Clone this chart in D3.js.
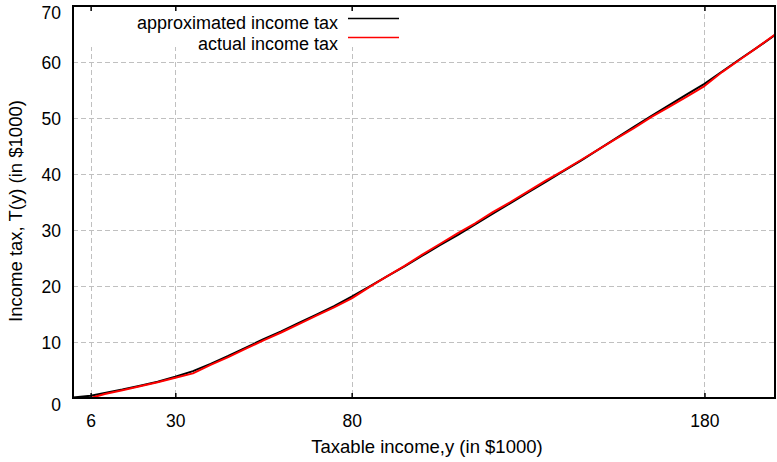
<!DOCTYPE html>
<html>
<head>
<meta charset="utf-8">
<script src="https://cdn.jsdelivr.net/npm/d3@7"></script>
<style>
  html, body { margin: 0; padding: 0; background: #fff; }
  svg { display: block; font-family: "Liberation Sans", Arial, sans-serif; }
</style>
</head>
<body>
<svg id="chart" width="777" height="462"></svg>
<script>
// Taxable income (in $1000)
const incomes = [1, 6, 10, 15, 20, 25, 30, 35, 40, 45, 50, 55, 60, 65, 70, 75, 80, 85, 90, 95,
  100, 105, 110, 115, 120, 125, 130, 135, 140, 145, 150, 155, 160, 165, 170, 175, 180, 185, 190, 195, 200];
// Approximated income tax T(y) (in $1000)
const approxTax = [0.1, 0.4, 0.9, 1.5, 2.2, 2.9, 3.8, 4.8, 6.1, 7.5, 9.0, 10.5, 11.9, 13.4, 14.9, 16.4,
  18.1, 19.9, 21.7, 23.5, 25.4, 27.3, 29.1, 31.0, 32.9, 34.8, 36.7, 38.6, 40.5, 42.4, 44.4, 46.4,
  48.4, 50.4, 52.3, 54.2, 56.1, 58.3, 60.5, 62.6, 64.8];
// Actual income tax T(y) (in $1000)
const actualTax = [0.0, 0.0, 0.7, 1.4, 2.1, 2.8, 3.6, 4.4, 5.9, 7.3, 8.8, 10.3, 11.7, 13.2, 14.7, 16.2,
  17.8, 19.8, 21.7, 23.6, 25.6, 27.5, 29.4, 31.2, 33.2, 35.0, 36.9, 38.8, 40.6, 42.5, 44.4, 46.3,
  48.2, 50.2, 52.0, 53.8, 55.7, 58.2, 60.4, 62.6, 64.9];

const xTicks = [6, 30, 80, 180];
const yTicks = [0, 10, 20, 30, 40, 50, 60, 70];
const seriesNames = ["approximated income tax", "actual income tax"];
const seriesColors = ["#000000", "#ff0000"];
const xTitle = "Taxable income,y (in $1000)";
const yTitle = "Income tax, T(y) (in $1000)";

const svg = d3.select("#chart");
const plotL = 73, plotR = 775, plotT = 6, plotB = 398;

const x = d3.scaleLinear().domain([1, 200]).range([plotL, plotR]);
const y = d3.scaleLinear().domain([0, 70]).range([plotB, plotT]);

svg.append("rect").attr("width", 777).attr("height", 462).attr("fill", "#fff");

svg.append("defs").append("clipPath").attr("id", "plot-clip")
  .append("rect").attr("x", plotL).attr("y", plotT).attr("width", plotR - plotL).attr("height", plotB - plotT);

// Dashed grid
const grid = svg.append("g").attr("stroke", "#c0c0c0").attr("stroke-width", 1)
  .attr("stroke-dasharray", "5,3").attr("fill", "none");
grid.selectAll("line.h").data(yTicks.filter(d => d > 0 && d < 70)).join("line")
  .attr("class", "h")
  .attr("x1", plotL).attr("x2", plotR)
  .attr("y1", d => Math.round(y(d)) + 0.5).attr("y2", d => Math.round(y(d)) + 0.5);
grid.selectAll("line.v").data(xTicks).join("line")
  .attr("class", "v")
  .attr("y1", plotT).attr("y2", plotB)
  .attr("x1", d => Math.round(x(d)) + 0.5).attr("x2", d => Math.round(x(d)) + 0.5);

// Opaque key background
svg.append("rect").attr("x", plotL + 1).attr("y", plotT + 1).attr("width", 332).attr("height", 40)
  .attr("fill", "#fff");

// Curves
const line = d3.line().x(d => x(d[0])).y(d => y(d[1]));
const curves = svg.append("g").attr("clip-path", "url(#plot-clip)").attr("fill", "none")
  .attr("stroke-width", 2).attr("stroke-linejoin", "round");
[approxTax, actualTax].forEach((vals, i) => {
  curves.append("path")
    .attr("d", line(incomes.map((v, j) => [v, vals[j]])))
    .attr("stroke", seriesColors[i]);
});

// Frame
svg.append("rect").attr("x", plotL).attr("y", plotT).attr("width", plotR - plotL).attr("height", plotB - plotT)
  .attr("fill", "none").attr("stroke", "#000").attr("stroke-width", 2);

// Axes via d3 axis generators, inward ticks on bottom and top
const xAxisB = svg.append("g").attr("transform", `translate(0,${plotB})`)
  .call(d3.axisBottom(x).tickValues(xTicks).tickSize(-5).tickFormat(d3.format("d")));
const xAxisT = svg.append("g").attr("transform", `translate(0,${plotT})`)
  .call(d3.axisTop(x).tickValues(xTicks).tickSize(-5).tickFormat(""));
const yAxis = svg.append("g").attr("transform", `translate(${plotL},0)`)
  .call(d3.axisLeft(y).tickValues(yTicks).tickSize(0).tickPadding(12).tickFormat(d3.format("d")));
[xAxisB, xAxisT, yAxis].forEach(a => {
  a.select(".domain").remove();
  a.selectAll(".tick line").attr("stroke", "#000").attr("stroke-width", 1.5);
  a.selectAll("text").attr("font-size", 17.5).attr("fill", "#000")
    .attr("font-family", "Liberation Sans, Arial, sans-serif");
});
xAxisB.selectAll(".tick text").attr("y", 17).attr("dy", "0.71em");
yAxis.selectAll(".tick text")
  .attr("dy", d => (d === 0 || d === 70) ? "0.72em" : "0.35em");

// Axis titles
svg.append("text").attr("x", 427).attr("y", 453).attr("text-anchor", "middle")
  .attr("font-size", 18.5).attr("fill", "#000").text(xTitle);
svg.append("text").attr("transform", "translate(22,211) rotate(-90)").attr("text-anchor", "middle")
  .attr("font-size", 18.5).attr("fill", "#000").text(yTitle);

// Key
const key = svg.append("g");
seriesNames.forEach((name, i) => {
  key.append("text").attr("x", 338).attr("y", 29 + i * 20.5).attr("text-anchor", "end")
    .attr("font-size", 18).attr("fill", "#000").text(name);
  key.append("line").attr("x1", 348).attr("x2", 399)
    .attr("y1", 18.5 + i * 19).attr("y2", 18.5 + i * 19)
    .attr("stroke", seriesColors[i]).attr("stroke-width", 1.5);
});
</script>
</body>
</html>
